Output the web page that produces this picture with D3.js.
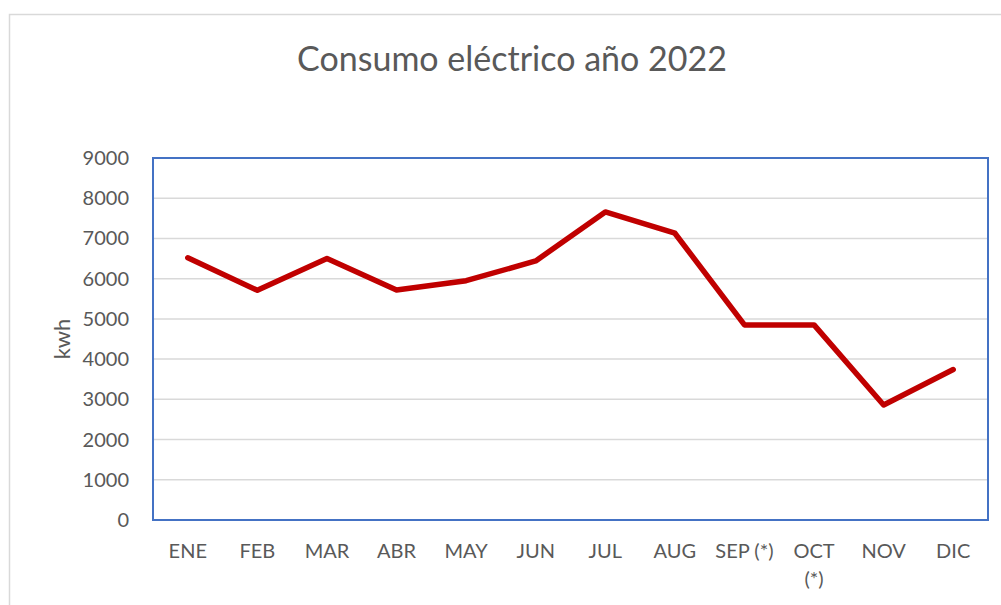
<!DOCTYPE html>
<html>
<head>
<meta charset="utf-8">
<script src="https://cdn.jsdelivr.net/npm/d3@7"></script>
<style>
  body { margin: 0; background: #fff; }
  text { font-family: Lato, "Open Sans", sans-serif; fill: #595959; }
</style>
</head>
<body>
<svg id="main" width="1001" height="605"></svg>
<script>
var months = ["ENE", "FEB", "MAR", "ABR", "MAY", "JUN", "JUL", "AUG", "SEP (*)", "OCT (*)", "NOV", "DIC"];
var kwh = [6520, 5710, 6500, 5720, 5950, 6440, 7660, 7130, 4850, 4850, 2860, 3740];
var yTicks = [0, 1000, 2000, 3000, 4000, 5000, 6000, 7000, 8000, 9000];

var svg = d3.select("svg#main");

// chart frame
svg.append("rect")
  .attr("x", 9.5).attr("y", 14.5)
  .attr("width", 1000).attr("height", 600)
  .style("fill", "none").style("stroke", "#d9d9d9").style("stroke-width", 1.5);

var plotLeft = 153, plotRight = 988, plotTop = 158, plotBottom = 520;

var x = d3.scaleBand().domain(months).range([plotLeft, plotRight]);
var y = d3.scaleLinear().domain([0, 9000]).range([plotBottom, plotTop]);

// gridlines
svg.append("g").selectAll("line")
  .data(yTicks)
  .enter().append("line")
  .attr("x1", plotLeft).attr("x2", plotRight)
  .attr("y1", function (d) { return y(d); })
  .attr("y2", function (d) { return y(d); })
  .style("stroke", "#d9d9d9").style("stroke-width", 1.5);

// y labels
svg.append("g").selectAll("text")
  .data(yTicks)
  .enter().append("text")
  .attr("x", 129)
  .attr("y", function (d) { return y(d); })
  .attr("dy", "0.35em")
  .attr("text-anchor", "end")
  .style("font-size", "20px")
  .text(function (d) { return d; });

// x labels, OCT (*) wraps in the original
var xl = svg.append("g").selectAll("text")
  .data(months)
  .enter().append("text")
  .attr("x", function (d) { return x(d) + x.bandwidth() / 2; })
  .attr("y", 558)
  .attr("text-anchor", "middle")
  .style("font-size", "20px");
xl.each(function (d) {
  var t = d3.select(this);
  if (d == "OCT (*)") {
    var parts = d.split(" ");
    t.append("tspan").attr("x", t.attr("x")).text(parts[0]);
    t.append("tspan").attr("x", t.attr("x")).attr("dy", 28).text(parts[1]);
  } else {
    t.text(d);
  }
});

// plot border
svg.append("rect")
  .attr("x", plotLeft).attr("y", plotTop)
  .attr("width", plotRight - plotLeft).attr("height", plotBottom - plotTop)
  .style("fill", "none").style("stroke", "#4472c4").style("stroke-width", 2);

// series
var line = d3.line()
  .x(function (d, i) { return x(months[i]) + x.bandwidth() / 2; })
  .y(function (d) { return y(d); });

svg.append("path")
  .datum(kwh)
  .attr("d", line)
  .style("fill", "none")
  .style("stroke", "#c00000")
  .style("stroke-width", 5.5)
  .style("stroke-linejoin", "round")
  .style("stroke-linecap", "round");

// title + axis title
svg.append("text")
  .attr("x", 512).attr("y", 71)
  .attr("text-anchor", "middle")
  .style("font-size", "34px")
  .text("Consumo eléctrico año 2022");

svg.append("text")
  .attr("transform", "translate(70," + ((plotTop + plotBottom) / 2) + ") rotate(-90)")
  .attr("text-anchor", "middle")
  .style("font-size", "22px")
  .text("kwh");
</script>
</body>
</html>
